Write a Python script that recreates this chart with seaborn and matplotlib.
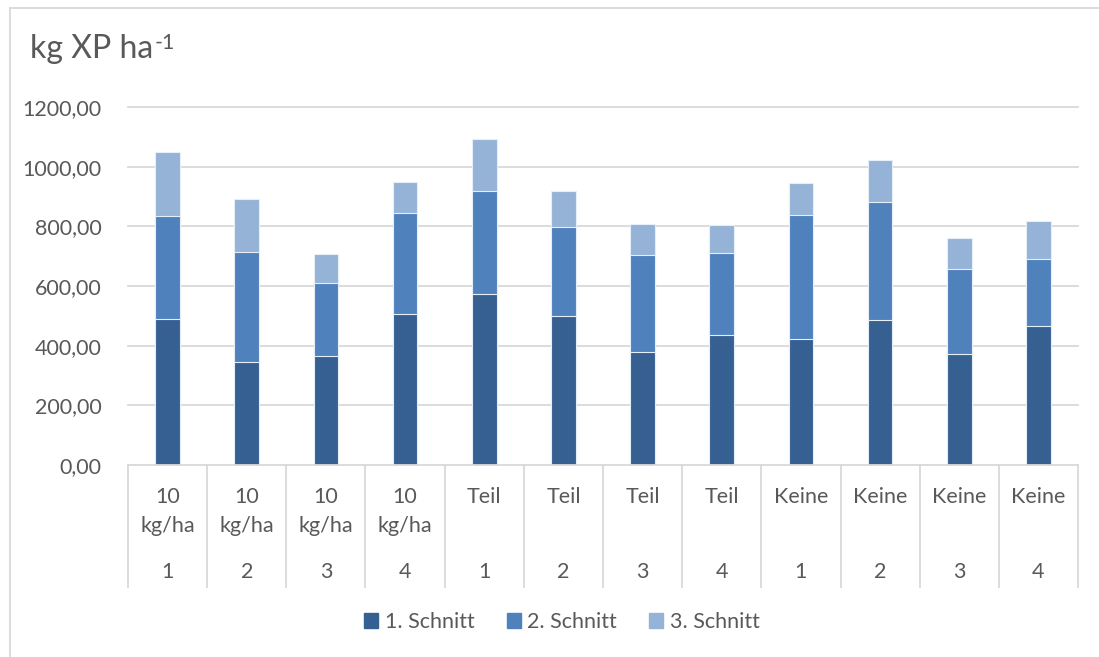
import pandas as pd
import matplotlib.pyplot as plt
import seaborn as sns
from matplotlib.patches import Rectangle
from matplotlib.lines import Line2D

# data
duengung = ["10\nkg/ha"] * 4 + ["Teil"] * 4 + ["Keine"] * 4
wiederholung = ["1", "2", "3", "4"] * 3
schnitt1 = [490, 345, 365, 507, 572, 499, 380, 437, 423, 487, 373, 465]
schnitt2 = [344, 369, 245, 337, 348, 298, 324, 274, 414, 395, 284, 226]
schnitt3 = [214, 177, 96, 106, 173, 122, 105, 92, 108, 142, 105, 126]
serien = ["1. Schnitt", "2. Schnitt", "3. Schnitt"]
farben = ["#376092", "#4F81BD", "#95B3D7"]

df = pd.DataFrame({
    "kat": [f"{d}|{w}" for d, w in zip(duengung, wiederholung)],
    "s1": schnitt1, "s2": schnitt2, "s3": schnitt3,
})
df["c1"] = df["s1"]
df["c2"] = df["s1"] + df["s2"]
df["c3"] = df["c2"] + df["s3"]

grau = "#595959"
linie = "#D9D9D9"
fs = 15.5
plt.rcParams["font.family"] = ["Lato", "DejaVu Sans"]

fig = plt.figure(figsize=(10.99, 6.57), dpi=100)
ax = fig.add_axes([128 / 1099, 1 - 465 / 657, (1078 - 128) / 1099, (465 - 107) / 657])

# gestapelte Balken: Summen von hinten nach vorne zeichnen
for spalte, farbe in zip(["c3", "c2", "c1"], farben[::-1]):
    sns.barplot(data=df, x="kat", y=spalte, color=farbe, width=0.31,
                edgecolor="#E6EEF7", linewidth=0.8, saturation=1, ax=ax, zorder=3)

ax.set_ylim(0, 1200)
ax.set_xlim(-0.5, 11.5)
ax.set_yticks(range(0, 1201, 200))
ax.set_yticklabels([f"{v},00" for v in range(0, 1201, 200)], fontsize=fs, color=grau)
ax.tick_params(axis="y", length=0, pad=19)
ax.tick_params(axis="x", length=0, labelbottom=False)
ax.set_xlabel("")
ax.set_ylabel("")
for s in ax.spines.values():
    s.set_visible(False)
for v in range(200, 1201, 200):
    ax.axhline(v, color=linie, lw=1.3, zorder=1, clip_on=False)
ax.axhline(0, color=linie, lw=1.3, zorder=4, clip_on=False)

# mehrstufige Kategorieachse
trans = ax.get_xaxis_transform()
for i in range(13):
    ax.add_line(Line2D([i - 0.5, i - 0.5], [0, -122 / 358], transform=trans,
                       color=linie, lw=1.3, clip_on=False))
for i, (d, w) in enumerate(zip(duengung, wiederholung)):
    ax.text(i, -22 / 358, d, transform=trans, ha="center", va="top",
            fontsize=fs, color=grau, linespacing=1.55)
    ax.text(i, -97 / 358, w, transform=trans, ha="center", va="top",
            fontsize=fs, color=grau)

# Titel mit Hochzahl
titel = fig.text(30 / 1099, 1 - 58 / 657, "kg XP ha", fontsize=23,
                 color=grau, ha="left", va="baseline")
plt.annotate("-1", xy=(1, 1), xycoords=titel, xytext=(1, -11),
             textcoords="offset points", fontsize=15.5, color=grau,
             ha="left", va="baseline")

# Legende
griffe = [Rectangle((0, 0), 1, 1, color=f) for f in farben]
fig.legend(griffe, serien, loc="center", bbox_to_anchor=(562 / 1099, 1 - 622 / 657),
           ncol=3, frameon=False, fontsize=fs, labelcolor=grau,
           handlelength=0.65, handleheight=0.65, handletextpad=0.3, columnspacing=1.5)

# Diagrammrahmen
fig.add_artist(Line2D([10 / 1099, 10 / 1099], [0, 1 - 8 / 657], transform=fig.transFigure,
                      color=linie, lw=1.3))
fig.add_artist(Line2D([10 / 1099, 1], [1 - 8 / 657, 1 - 8 / 657], transform=fig.transFigure,
                      color=linie, lw=1.3))

fig.savefig("out.png", dpi=100)
